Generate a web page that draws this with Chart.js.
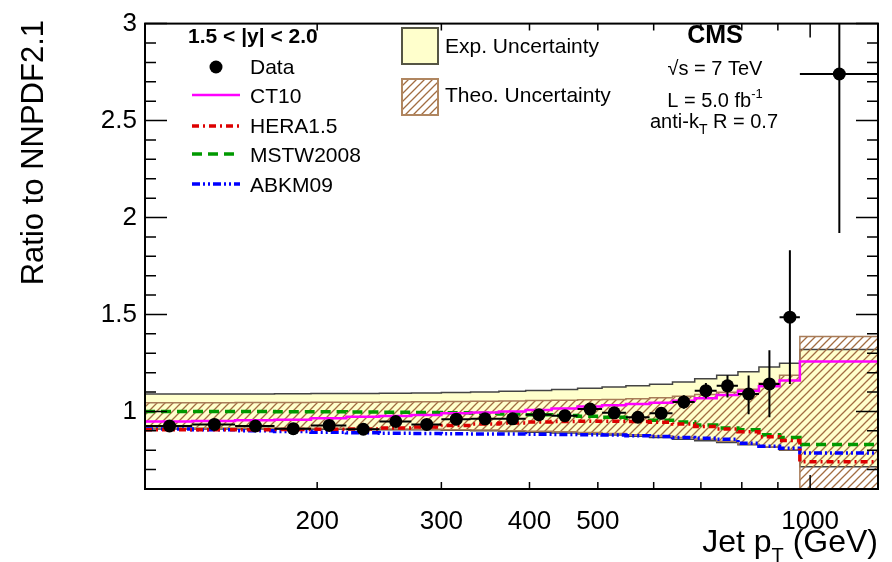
<!DOCTYPE html>
<html>
<head>
<meta charset="utf-8">
<script src="https://cdn.jsdelivr.net/npm/chart.js@4.4.1/dist/chart.umd.min.js"></script>
<style>
  html, body { margin: 0; padding: 0; background: #fff; }
  #wrap { width: 892px; height: 562px; }
</style>
</head>
<body>
<div id="wrap"><canvas id="chart" width="892" height="562"></canvas></div>
<script>
const FONT = '"Liberation Sans", Arial, Helvetica, sans-serif';

// jet pT bin edges (GeV) and data
const binEdges = [114, 133, 153, 174, 196, 220, 245, 272, 300, 330, 362, 395, 430, 468, 507, 548, 592, 638, 686, 737, 790, 846, 905, 967, 1248];
const dataPt = [123.5, 143, 163.5, 185, 208, 232.5, 258.5, 286, 315, 346, 378.5, 412.5, 449, 487.5, 527.5, 570, 615, 662, 711.5, 763.5, 818, 875.5, 936, 1100];
const dataVal = [0.925, 0.933, 0.925, 0.911, 0.928, 0.908, 0.948, 0.933, 0.96, 0.962, 0.962, 0.983, 0.978, 1.012, 0.993, 0.97, 0.99, 1.049, 1.107, 1.132, 1.09, 1.142, 1.486, 2.74];
const dataErrUp = [0.01, 0.01, 0.01, 0.01, 0.01, 0.01, 0.012, 0.012, 0.013, 0.014, 0.015, 0.016, 0.018, 0.02, 0.022, 0.025, 0.028, 0.035, 0.04, 0.055, 0.095, 0.174, 0.345, 0.85];
const dataErrDn = [0.01, 0.01, 0.01, 0.01, 0.01, 0.01, 0.012, 0.012, 0.013, 0.014, 0.015, 0.016, 0.018, 0.02, 0.022, 0.025, 0.028, 0.035, 0.04, 0.06, 0.105, 0.172, 0.345, 0.82];

// uncertainty bands (per bin)
const expUp = [1.09, 1.09, 1.09, 1.091, 1.092, 1.093, 1.094, 1.095, 1.097, 1.1, 1.104, 1.108, 1.113, 1.12, 1.126, 1.132, 1.14, 1.152, 1.168, 1.187, 1.204, 1.229, 1.249, 1.32];
const expDn = [0.91, 0.91, 0.91, 0.909, 0.908, 0.907, 0.906, 0.905, 0.903, 0.9, 0.897, 0.893, 0.889, 0.884, 0.878, 0.872, 0.865, 0.857, 0.849, 0.84, 0.828, 0.815, 0.8, 0.715];
const theoUp = [1.045, 1.045, 1.046, 1.046, 1.047, 1.048, 1.049, 1.05, 1.051, 1.052, 1.054, 1.056, 1.058, 1.06, 1.062, 1.065, 1.07, 1.078, 1.087, 1.099, 1.115, 1.145, 1.187, 1.386];
const theoDn = [0.915, 0.915, 0.914, 0.913, 0.912, 0.911, 0.91, 0.908, 0.906, 0.904, 0.901, 0.898, 0.895, 0.891, 0.886, 0.88, 0.873, 0.865, 0.856, 0.846, 0.832, 0.817, 0.803, 0.5];

// alternative PDF predictions (per bin)
const ct10 = [0.948, 0.951, 0.954, 0.957, 0.965, 0.972, 0.977, 0.982, 0.99, 0.995, 1.0, 1.008, 1.015, 1.025, 1.032, 1.038, 1.045, 1.055, 1.068, 1.085, 1.105, 1.13, 1.16, 1.257];
const hera15 = [0.905, 0.905, 0.906, 0.907, 0.908, 0.91, 0.915, 0.92, 0.928, 0.935, 0.94, 0.945, 0.948, 0.95, 0.95, 0.948, 0.944, 0.935, 0.922, 0.91, 0.895, 0.87, 0.85, 0.74];
const mstw2008 = [1.0, 1.0, 1.0, 0.999, 0.998, 0.997, 0.996, 0.995, 0.993, 0.99, 0.987, 0.983, 0.979, 0.975, 0.97, 0.963, 0.955, 0.945, 0.93, 0.915, 0.905, 0.88, 0.865, 0.83];
const abkm09 = [0.91, 0.905, 0.9, 0.897, 0.893, 0.89, 0.888, 0.886, 0.885, 0.884, 0.883, 0.882, 0.881, 0.88, 0.878, 0.875, 0.871, 0.866, 0.862, 0.856, 0.836, 0.82, 0.81, 0.786];

// axis ticks
const xTicks = [200, 300, 400, 500, 600, 700, 800, 900, 1000];
const xTickLabels = [200, 300, 400, 500, 1000];
const yTickLabels = [1, 1.5, 2, 2.5, 3];

function steps(vals) {
  return binEdges.map((e, i) => ({ x: e, y: vals[Math.min(i, vals.length - 1)] }));
}

function makeHatch() {
  const c = document.createElement('canvas');
  c.width = 8; c.height = 8;
  const g = c.getContext('2d');
  g.strokeStyle = '#a26d42';
  g.lineWidth = 1.3;
  g.beginPath();
  g.moveTo(0, 8); g.lineTo(8, 0);
  g.moveTo(-2, 2); g.lineTo(2, -2);
  g.moveTo(6, 10); g.lineTo(10, 6);
  g.stroke();
  return g.createPattern(c, 'repeat');
}
const hatch = makeHatch();

function richText(ctx, parts, x, y, align) {
  let w = 0;
  parts.forEach(p => {
    ctx.font = (p.bold ? 'bold ' : '') + p.size + 'px ' + FONT;
    w += ctx.measureText(p.t).width;
  });
  let cx = align === 'center' ? x - w / 2 : align === 'right' ? x - w : x;
  ctx.textAlign = 'left';
  ctx.textBaseline = 'alphabetic';
  parts.forEach(p => {
    ctx.font = (p.bold ? 'bold ' : '') + p.size + 'px ' + FONT;
    ctx.fillText(p.t, cx, y + (p.dy || 0));
    cx += ctx.measureText(p.t).width;
  });
}

// error bars drawn just before the data markers
const errorBars = {
  id: 'errorBars',
  beforeDatasetDraw(chart, args) {
    if (args.index !== 0) return;
    const { ctx, chartArea: a, scales: { x, y } } = chart;
    ctx.save();
    ctx.beginPath();
    ctx.rect(a.left, a.top, a.width, a.height);
    ctx.clip();
    ctx.strokeStyle = '#000';
    ctx.lineWidth = 2;
    ctx.beginPath();
    dataPt.forEach((pt, i) => {
      const px = x.getPixelForValue(pt);
      const py = y.getPixelForValue(dataVal[i]);
      ctx.moveTo(x.getPixelForValue(binEdges[i]), py);
      ctx.lineTo(x.getPixelForValue(binEdges[i + 1]), py);
      ctx.moveTo(px, y.getPixelForValue(dataVal[i] + dataErrUp[i]));
      ctx.lineTo(px, y.getPixelForValue(dataVal[i] - dataErrDn[i]));
    });
    ctx.stroke();
    ctx.restore();
  }
};

// ROOT style frame with inward ticks
const frameTicks = {
  id: 'frameTicks',
  afterDatasetsDraw(chart) {
    const { ctx, chartArea: a, scales: { x, y } } = chart;
    ctx.save();
    ctx.strokeStyle = '#000';
    ctx.lineWidth = 1.5;
    ctx.beginPath();
    xTicks.forEach(v => {
      const px = x.getPixelForValue(v);
      const len = v === 1000 ? 14 : 7;
      ctx.moveTo(px, a.bottom); ctx.lineTo(px, a.bottom - len);
      ctx.moveTo(px, a.top); ctx.lineTo(px, a.top + len);
    });
    y.ticks.forEach(t => {
      const py = y.getPixelForValue(t.value);
      const major = yTickLabels.some(l => Math.abs(l - t.value) < 1e-6);
      const len = major ? 22 : 11;
      ctx.moveTo(a.left, py); ctx.lineTo(a.left + len, py);
      ctx.moveTo(a.right, py); ctx.lineTo(a.right - len, py);
    });
    ctx.stroke();
    ctx.lineWidth = 2;
    ctx.strokeRect(a.left, a.top, a.width, a.height);
    ctx.restore();
  }
};

// legends, labels and axis titles
const annotations = {
  id: 'annotations',
  afterDraw(chart) {
    const ctx = chart.ctx;
    ctx.save();
    ctx.fillStyle = '#000';

    richText(ctx, [{ t: '1.5 < |y| < 2.0', size: 21, bold: true }], 188, 43, 'left');

    ctx.beginPath();
    ctx.arc(216, 67, 6.5, 0, Math.PI * 2);
    ctx.fill();
    richText(ctx, [{ t: 'Data', size: 21 }], 250, 74, 'left');

    const lines = [
      { label: 'CT10', y: 95, color: '#ff00ff', dash: [], w: 2.5, base: 103 },
      { label: 'HERA1.5', y: 126, color: '#dd0000', dash: [7, 4, 2, 4], w: 3.5, base: 133 },
      { label: 'MSTW2008', y: 154, color: '#009900', dash: [10, 6], w: 3.5, base: 162 },
      { label: 'ABKM09', y: 184, color: '#0000ff', dash: [8, 3, 2, 3, 2, 3], w: 3.5, base: 192 }
    ];
    lines.forEach(l => {
      ctx.strokeStyle = l.color;
      ctx.lineWidth = l.w;
      ctx.setLineDash(l.dash);
      ctx.beginPath();
      ctx.moveTo(192, l.y); ctx.lineTo(240, l.y);
      ctx.stroke();
      ctx.setLineDash([]);
      ctx.fillStyle = '#000';
      richText(ctx, [{ t: l.label, size: 21 }], 250, l.base, 'left');
    });

    ctx.fillStyle = '#ffffcc';
    ctx.fillRect(402, 28, 36, 36);
    ctx.strokeStyle = '#555544';
    ctx.lineWidth = 2;
    ctx.strokeRect(402, 28, 36, 36);
    ctx.fillStyle = '#fff';
    ctx.fillRect(402, 79, 36, 36);
    ctx.fillStyle = hatch;
    ctx.fillRect(402, 79, 36, 36);
    ctx.strokeStyle = '#b08660';
    ctx.strokeRect(402, 79, 36, 36);
    ctx.fillStyle = '#000';
    richText(ctx, [{ t: 'Exp. Uncertainty', size: 21 }], 445, 53, 'left');
    richText(ctx, [{ t: 'Theo. Uncertainty', size: 21 }], 445, 102, 'left');

    richText(ctx, [{ t: 'CMS', size: 25, bold: true }], 715, 43, 'center');
    richText(ctx, [{ t: '\u221As = 7 TeV', size: 20 }], 715, 75, 'center');
    richText(ctx, [{ t: 'L = 5.0 fb', size: 20 }, { t: '-1', size: 13, dy: -9 }], 715, 107, 'center');
    richText(ctx, [{ t: 'anti-k', size: 20 }, { t: 'T', size: 14, dy: 6 }, { t: ' R = 0.7', size: 20 }], 714, 128, 'center');

    richText(ctx, [{ t: 'Jet p', size: 32 }, { t: 'T', size: 20, dy: 10 }, { t: ' (GeV)', size: 32 }], 878, 552, 'right');

    ctx.translate(43, 20);
    ctx.rotate(-Math.PI / 2);
    ctx.font = '31px ' + FONT;
    ctx.textAlign = 'right';
    ctx.textBaseline = 'alphabetic';
    ctx.fillText('Ratio to NNPDF2.1', 0, 0);
    ctx.restore();
  }
};

const datasets = [
  { label: 'Data', type: 'scatter', data: dataPt.map((x, i) => ({ x, y: dataVal[i] })),
    pointRadius: 6.5, pointBackgroundColor: '#000', pointBorderWidth: 0, order: 0 },
  { label: 'CT10', data: steps(ct10), borderColor: '#ff00ff', borderWidth: 2.5, order: 1 },
  { label: 'HERA1.5', data: steps(hera15), borderColor: '#dd0000', borderWidth: 3.5, borderDash: [7, 4, 2, 4], order: 2 },
  { label: 'MSTW2008', data: steps(mstw2008), borderColor: '#009900', borderWidth: 3.5, borderDash: [10, 6], order: 3 },
  { label: 'ABKM09', data: steps(abkm09), borderColor: '#0000ff', borderWidth: 3.5, borderDash: [8, 3, 2, 3, 2, 3], order: 4 },
  { label: 'Theo up', data: steps(theoUp), borderColor: '#a87c58', borderWidth: 1.5, order: 5 },
  { label: 'Theo down', data: steps(theoDn), borderColor: '#a87c58', borderWidth: 1.5, fill: '-1', backgroundColor: hatch, order: 6 },
  { label: 'Exp up', data: steps(expUp), borderColor: '#444444', borderWidth: 1.5, order: 7 },
  { label: 'Exp down', data: steps(expDn), borderColor: '#444444', borderWidth: 1.5, fill: '-1', backgroundColor: '#ffffcc', order: 8 }
];
datasets.forEach(d => {
  if (d.type !== 'scatter') {
    d.type = 'line';
    d.stepped = 'before';
    d.pointRadius = 0;
    if (!d.fill) d.fill = false;
  }
});

new Chart(document.getElementById('chart'), {
  type: 'line',
  data: { datasets },
  options: {
    responsive: false,
    animation: false,
    devicePixelRatio: 1,
    events: [],
    layout: { padding: { top: 10, right: 14, left: 0, bottom: 0 } },
    plugins: { legend: { display: false }, tooltip: { enabled: false } },
    scales: {
      x: {
        type: 'logarithmic',
        min: binEdges[0],
        max: binEdges[binEdges.length - 1],
        afterFit: s => { s.height = 73; },
        afterBuildTicks: s => { s.ticks = xTicks.map(v => ({ value: v })); },
        grid: { display: false, drawTicks: false },
        border: { display: false },
        ticks: {
          autoSkip: false, maxRotation: 0, minRotation: 0, padding: 17, color: '#000',
          font: { size: 26, family: FONT },
          callback: v => xTickLabels.includes(v) ? String(v) : ''
        }
      },
      y: {
        min: 0.6,
        max: 3.0,
        afterFit: s => { s.width = 145; },
        afterBuildTicks: s => {
          const t = [];
          for (let k = 6; k <= 30; k++) t.push({ value: k / 10 });
          s.ticks = t;
        },
        grid: { display: false, drawTicks: false },
        border: { display: false },
        ticks: {
          autoSkip: false, padding: 8, color: '#000',
          font: { size: 26, family: FONT },
          callback: v => {
            const l = yTickLabels.find(l => Math.abs(l - v) < 1e-6);
            return l === undefined ? '' : String(l);
          }
        }
      }
    }
  },
  plugins: [errorBars, frameTicks, annotations]
});
</script>
</body>
</html>
